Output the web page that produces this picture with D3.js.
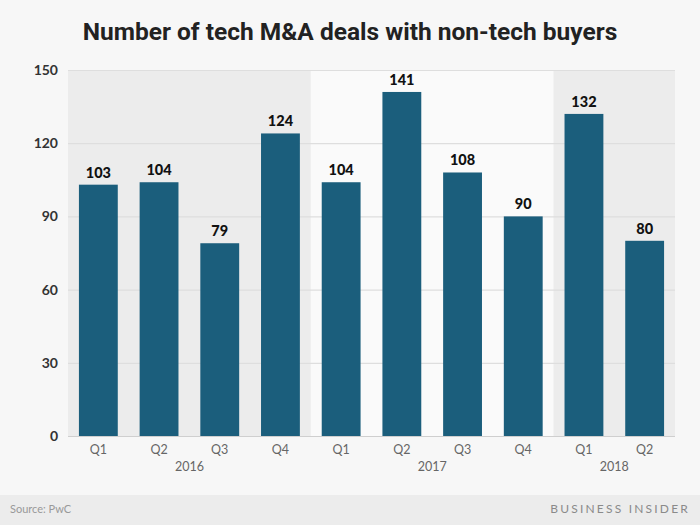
<!DOCTYPE html>
<html><head><meta charset="utf-8">
<script src="https://cdn.jsdelivr.net/npm/d3@7"></script>
<style>
html,body{margin:0;padding:0;background:#f7f7f7;}
svg{display:block;}
</style></head>
<body>
<svg id="chart" width="700" height="525"></svg>
<script>
const quarters = ["Q1","Q2","Q3","Q4","Q1","Q2","Q3","Q4","Q1","Q2"];
const years = ["2016","2016","2016","2016","2017","2017","2017","2017","2018","2018"];
const deals = [103,104,79,124,104,141,108,90,132,80];
const yTicks = [0,30,60,90,120,150];
const yearList = ["2016","2017","2018"];

const W = 700, H = 525;
const m = {left:68, right:25, top:70, bottom:89};
const svg = d3.select("#chart");
svg.append("rect").attr("width",W).attr("height",H).attr("fill","#f7f7f7");

const keys = d3.range(deals.length);
const x = d3.scaleBand().domain(keys).range([m.left, W-m.right]).paddingInner(0.36).paddingOuter(0.18);
const y = d3.scaleLinear().domain([0,150]).range([H-m.bottom, m.top]);

// year bands
const bandFill = {"2016":"#ececec","2017":"#fafafa","2018":"#ececec"};
yearList.forEach(yr=>{
  const idx = keys.filter(i=>years[i]===yr);
  const first = idx[0], last = idx[idx.length-1];
  const xs = first===0 ? m.left : x(first) - x.step()*x.paddingInner()/2;
  const xe = last===keys.length-1 ? W-m.right : x(last) + x.bandwidth() + x.step()*x.paddingInner()/2;
  svg.append("rect").attr("x",xs).attr("y",y(150)).attr("width",xe-xs).attr("height",y(0)-y(150)).attr("fill",bandFill[yr]);
});

// gridlines
svg.append("g").selectAll("line").data(yTicks).join("line")
  .attr("x1",m.left).attr("x2",W-m.right)
  .attr("y1",d=>y(d)+0.5).attr("y2",d=>y(d)+0.5)
  .attr("stroke",d=>d===0?"#cfcfcf":"#dedede").attr("stroke-width",1.2);

// y axis labels
svg.append("g").selectAll("text").data(yTicks).join("text")
  .attr("x",m.left-10).attr("y",d=>y(d)+5)
  .attr("text-anchor","end").attr("font-family","Lato, 'Open Sans', sans-serif")
  .attr("font-weight","700").attr("font-size","14px").attr("fill","#333")
  .text(d=>d);

// bars
svg.append("g").selectAll("rect").data(keys).join("rect")
  .attr("x",i=>x(i)).attr("width",x.bandwidth())
  .attr("y",i=>y(deals[i])).attr("height",i=>y(0)-y(deals[i]))
  .attr("fill","#1b5e7c");

// value labels
svg.append("g").selectAll("text").data(keys).join("text")
  .attr("x",i=>x(i)+x.bandwidth()/2).attr("y",i=>y(deals[i])-7)
  .attr("text-anchor","middle").attr("font-family","Lato, 'Open Sans', sans-serif")
  .attr("font-weight","900").attr("font-size","14.5px").attr("fill","#111")
  .text(i=>deals[i]);

// quarter labels
svg.append("g").selectAll("text").data(keys).join("text")
  .attr("x",i=>x(i)+x.bandwidth()/2).attr("y",y(0)+18)
  .attr("text-anchor","middle").attr("font-family","Lato, 'Open Sans', sans-serif")
  .attr("font-size","12.5px").attr("fill","#666")
  .text(i=>quarters[i]);

// year labels
yearList.forEach(yr=>{
  const idx = keys.filter(i=>years[i]===yr);
  const cx = (x(idx[0]) + x(idx[idx.length-1]) + x.bandwidth())/2;
  svg.append("text").attr("x",cx).attr("y",y(0)+35)
    .attr("text-anchor","middle").attr("font-family","Lato, 'Open Sans', sans-serif")
    .attr("font-size","12.5px").attr("fill","#666").text(yr);
});

// title
svg.append("text").attr("x",W/2).attr("y",39.5).attr("text-anchor","middle")
  .attr("font-family","Roboto, sans-serif").attr("font-weight","700")
  .attr("font-size","24.5px").attr("fill","#222")
  .text("Number of tech M&A deals with non-tech buyers");

// footer
svg.append("rect").attr("x",0).attr("y",495).attr("width",W).attr("height",30).attr("fill","#ececec");
svg.append("text").attr("x",10).attr("y",513).attr("font-family","Lato, 'Open Sans', sans-serif")
  .attr("font-size","11px").attr("fill","#999").text("Source: PwC");
svg.append("text").attr("x",690).attr("y",513).attr("text-anchor","end")
  .attr("font-family","Lato, 'Open Sans', sans-serif").attr("font-size","12px")
  .attr("letter-spacing","2.2").attr("fill","#8a8a8a").text("BUSINESS INSIDER");
</script>
</body></html>
